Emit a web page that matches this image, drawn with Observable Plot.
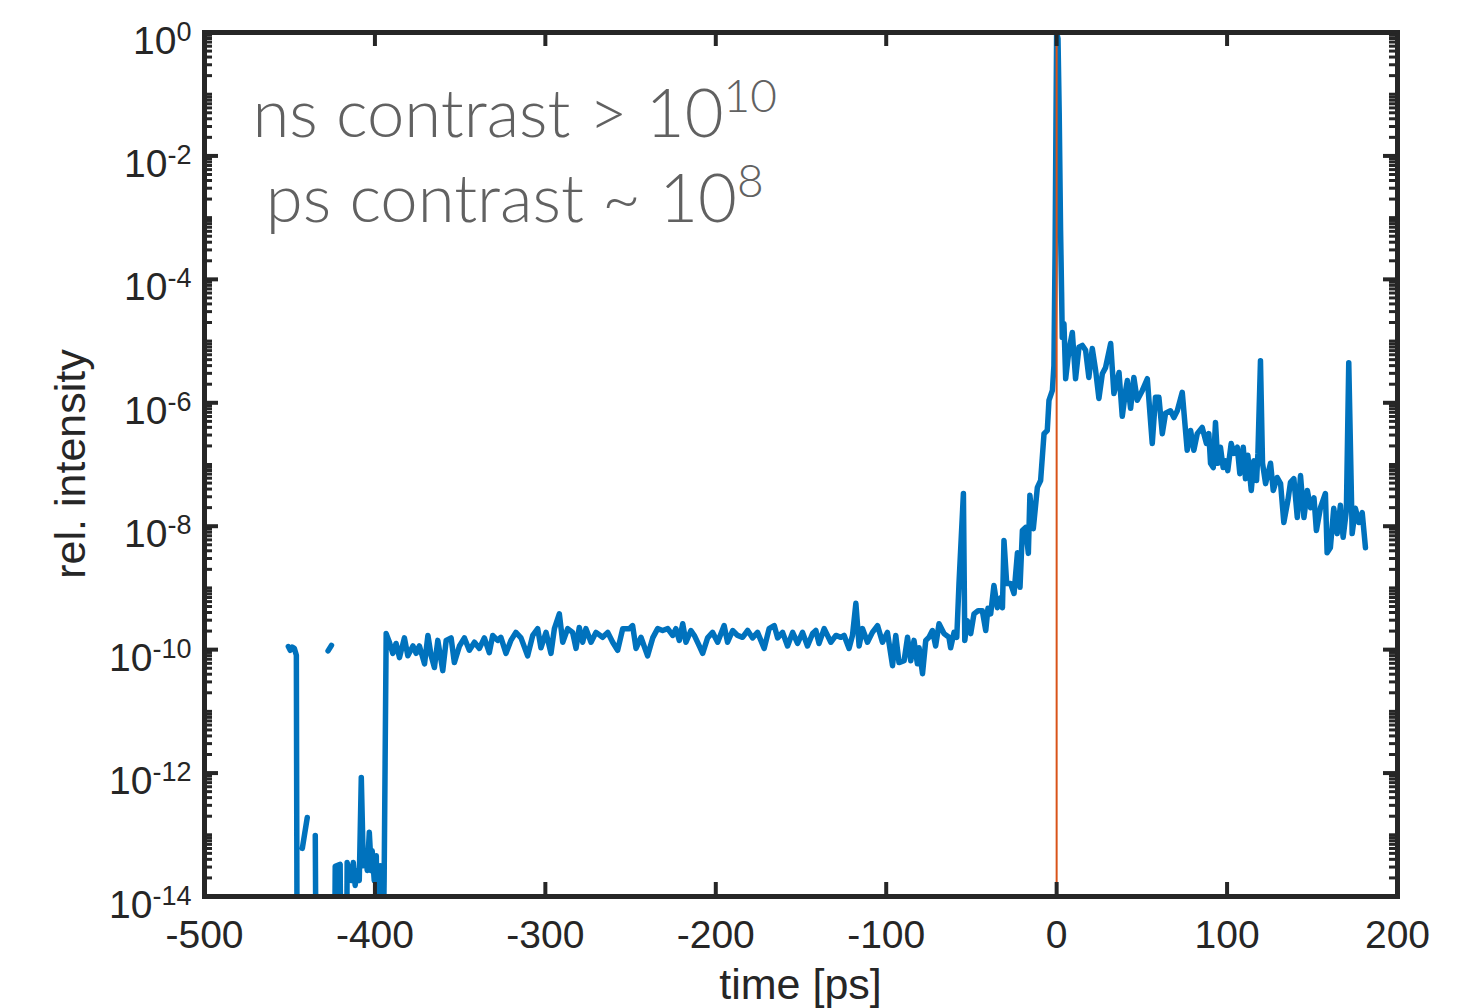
<!DOCTYPE html>
<html>
<head>
<meta charset="utf-8">
<script src="https://cdn.jsdelivr.net/npm/d3@7"></script>
<script src="https://cdn.jsdelivr.net/npm/@observablehq/plot@0.6"></script>
<style>
  html, body { margin: 0; padding: 0; background: #fff; }
  svg { display: block; }
</style>
</head>
<body>
<div id="chart"></div>
<script>
// ---------- data (time in ps, log10 of relative intensity; null = gap) ----------
const timeEarly = [
  -450.8, -449.7, -448.5, -447.3, -446.1, -445.6, -444.0,
  -442.6, -439.7, -437.0,
  -435.0, -434.4, -431.0,
  -427.5, -425.5, -424.6,
  -423.9, -423.3, -420.4, -419.8, -418.0,
  -416.8, -416.3, -413.9, -412.7, -411.6, -410.4, -409.2, -408.0, -406.8, -405.7,
  -404.5, -403.3, -402.1, -401.6, -400.4, -399.2, -398.1, -396.9, -395.7, -394.6
];
const logEarly = [
  -9.95, -10.01, -9.96, -9.98, -10.09, -16, null,
  -13.22, -12.72, null,
  -13.01, -16, null,
  -10.02, -9.93, null,
  -16, -13.51, -13.48, -16, null,
  -16, -13.45, -13.74, -13.45, -13.82, -13.58, -13.74, -12.07, -13.50, -13.26,
  -13.58, -12.96, -13.58, -13.26, -13.74, -13.34, -16, -13.50, -16, -13.74
];

const timeFloor = [
  -393.4, -391.5, -389.5, -387.6, -385.6, -382.7, -380.7, -377.7, -375.8, -373.9,
  -370.9, -368.9, -367.0, -365.1, -363.1, -360.2, -358.2, -355.3, -353.4, -350.4,
  -347.5, -344.6, -341.6, -338.7, -335.8, -332.9, -330.9, -328.0, -326.1, -323.1,
  -320.2, -317.3, -314.3, -310.4, -307.4, -304.5, -302.6, -299.6, -296.7, -294.7,
  -291.8, -289.8, -286.9, -284.0, -282.0, -280.1, -278.1, -276.2, -273.2, -270.3,
  -266.4, -263.4, -260.5, -257.6, -254.6, -250.7, -248.8, -246.8, -243.9, -240.0,
  -237.0, -234.1, -231.2, -228.2, -225.3, -223.4, -221.4, -219.4, -217.5, -214.6,
  -212.6, -209.7, -207.7, -204.8, -201.9, -198.9, -195.1, -193.1, -190.1, -187.2,
  -184.3, -181.3, -178.4, -175.5, -171.6, -168.7, -165.7, -163.7, -160.8, -157.9,
  -154.9, -152.0, -149.1, -146.2, -143.2, -141.3, -139.4, -136.4, -132.5, -129.5,
  -126.6, -124.7, -121.8, -119.8, -117.8, -115.9, -113.9, -111.0, -108.1, -105.1,
  -102.2, -99.3, -96.3, -94.4, -92.5
];
const logFloor = [
  -9.74, -9.88, -10.06, -9.90, -10.13, -9.81, -10.10, -9.94, -10.06, -9.94,
  -10.23, -9.77, -10.10, -10.29, -9.85, -10.34, -9.85, -9.81, -10.21, -9.94,
  -9.81, -10.01, -9.88, -9.98, -9.81, -10.05, -9.77, -9.85, -9.80, -10.06,
  -9.85, -9.72, -9.81, -10.10, -9.77, -9.66, -9.97, -9.72, -10.06, -9.66,
  -9.42, -9.88, -9.66, -9.72, -9.98, -9.64, -9.88, -9.66, -9.88, -9.72,
  -9.80, -9.72, -9.88, -10.01, -9.66, -9.66, -9.61, -9.98, -9.80, -10.10,
  -9.81, -9.66, -9.69, -9.66, -9.77, -9.66, -9.85, -9.58, -9.88, -9.69,
  -9.77, -9.94, -10.06, -9.81, -9.72, -9.88, -9.61, -9.88, -9.69, -9.77,
  -9.80, -9.69, -9.81, -9.72, -9.98, -9.66, -9.61, -9.81, -9.72, -9.94,
  -9.72, -9.90, -9.72, -9.94, -9.74, -9.69, -9.90, -9.66, -9.88, -9.77,
  -9.80, -9.77, -9.98, -9.77, -9.25, -9.94, -9.66, -9.88, -9.72, -9.61,
  -9.88, -9.72, -10.26, -9.77, -10.21
];

const timeRise = [
  -89.5, -87.5, -85.6, -83.7, -81.7, -80.7, -78.7, -76.8, -74.9, -72.9,
  -71.0, -69.0, -66.1, -63.2, -62.2, -60.2, -58.6, -57.3, -54.7, -53.9,
  -52.4, -50.4, -48.5, -46.1, -43.6, -41.6, -40.3, -38.7, -36.8, -34.8,
  -32.8, -31.8, -30.9, -29.3, -27.0, -25.0, -23.0, -21.5, -20.1, -18.2,
  -16.6, -15.7, -13.7, -11.3, -9.4, -7.4, -5.5, -4.5, -2.5, -1.6,
  -0.9, -0.4, 0, 0.8, 1.5, 2.3, 2.9
];
const logRise = [
  -10.18, -9.80, -10.18, -9.85, -10.23, -9.97, -10.39, -9.85, -9.80, -9.69,
  -9.94, -9.58, -9.74, -9.80, -9.97, -9.72, -9.80, -8.93, -7.47, -9.85,
  -9.53, -9.74, -9.42, -9.37, -9.37, -9.69, -9.33, -9.42, -8.96, -9.32,
  -9.16, -9.32, -8.23, -8.93, -8.93, -9.09, -8.43, -8.99, -8.07, -8.02,
  -8.44, -7.50, -8.04, -7.37, -7.26, -6.50, -6.45, -5.96, -5.80, -5.40,
  -3.5, -1.5, 0, -0.1, -1.3, -3.2, -4.2
];

const timeDecay = [
  3.3, 4.3, 5.3, 7.2, 9.2, 11.1, 13.1, 15.1, 17.0, 18.9,
  20.9, 22.9, 24.8, 26.8, 28.7, 31.7, 33.6, 36.6, 38.5, 40.5,
  41.5, 43.4, 45.3, 47.3, 50.3, 53.2, 56.1, 58.0, 60.0, 62.0,
  63.9, 66.8, 68.8, 70.8, 73.7, 76.6, 78.6, 80.5, 82.5, 85.4,
  87.9, 89.3, 90.3, 91.9, 93.2, 94.6, 96.1, 97.7, 99.1, 100.4,
  102.4, 104.0, 106.0, 107.5, 109.5, 110.8, 112.2, 114.2, 115.7, 117.3,
  118.1, 119.6, 120.8, 122.6, 125.5, 127.1, 129.4, 131.4, 133.3, 135.7,
  137.2, 139.2, 141.2, 143.1, 145.1, 147.1, 149.0, 151.0, 152.4, 154.8,
  157.7, 158.7, 160.6, 162.6, 164.6, 166.5, 168.1, 170.0, 171.4, 173.4,
  175.3, 177.3, 179.3, 181.2
];
const logDecay = [
  -4.94, -4.72, -5.61, -5.15, -4.86, -5.61, -5.10, -5.07, -5.15, -5.59,
  -5.12, -5.48, -5.93, -5.53, -5.43, -5.04, -5.85, -5.51, -6.22, -5.80,
  -5.64, -6.09, -5.59, -5.96, -5.80, -5.61, -6.66, -5.91, -5.91, -6.50,
  -6.17, -6.13, -6.24, -6.13, -5.83, -6.77, -6.45, -6.77, -6.50, -6.40,
  -6.66, -6.50, -6.98, -7.05, -6.32, -6.98, -6.72, -7.05, -6.94, -7.10,
  -6.66, -6.82, -6.72, -7.15, -6.72, -7.23, -6.85, -7.42, -6.94, -7.26,
  -6.82, -5.32, -6.98, -7.31, -6.98, -7.42, -7.21, -7.31, -7.94, -7.58,
  -7.29, -7.23, -7.86, -7.18, -7.86, -7.42, -7.70, -7.54, -8.07, -7.70,
  -7.47, -8.43, -8.35, -7.71, -8.12, -7.66, -8.18, -7.75, -5.35, -8.12,
  -7.71, -7.94, -7.78, -8.35
];

// ticks and labels
const xTicks = [-500, -400, -300, -200, -100, 0, 100, 200];
const yTickExponents = [0, -2, -4, -6, -8, -10, -12, -14];
const markerTime = [0];
const xLabel = "time [ps]";
const yLabel = "rel. intensity";
const annotationText = ["ns contrast > 10", "ps contrast ~ 10"];
const annotationExponent = ["10", "8"];
const annotationTime = [-317.7, -317.7];
const annotationLog = [-1.70, -3.08];

// ---------- build ----------
const W = 1465, H = 1008, mL = 204, mR = 68, mT = 32, mB = 112;
const plotW = W - mL - mR, plotH = H - mT - mB;
const axisColor = "#262626";

function toRows(times, logs) {
  return times.map((t, i) => ({ time: t, intensity: logs[i] == null ? NaN : Math.pow(10, logs[i]) }));
}
const data = [
  ...toRows(timeEarly, logEarly),
  ...toRows(timeFloor, logFloor),
  ...toRows(timeRise, logRise),
  ...toRows(timeDecay, logDecay)
];

const majorY = yTickExponents.map(e => Math.pow(10, e));
const minorY = [];
for (let k = -14; k < 0; k++) {
  for (let m = 1; m < 10; m++) {
    if (m === 1 && k % 2 === 0) continue;
    minorY.push(m * Math.pow(10, k));
  }
}

const chart = Plot.plot({
  width: W, height: H,
  marginLeft: mL, marginRight: mR, marginTop: mT, marginBottom: mB,
  style: { fontFamily: "'Liberation Sans', Arial, Helvetica, sans-serif", fontSize: "39px", color: axisColor, background: "#fff" },
  x: { domain: [-500, 200] },
  y: { type: "log", domain: [1e-14, 1] },
  marks: [
    Plot.line(data, { x: "time", y: "intensity", stroke: "#0072BD", strokeWidth: 5.5, strokeLinejoin: "round", strokeLinecap: "round", clip: true }),
    Plot.ruleX(markerTime, { x: d => d, stroke: "#D95319", strokeWidth: 2 }),
    Plot.frame({ stroke: axisColor, strokeWidth: 5 }),
    Plot.tickX(xTicks, { x: d => d, stroke: axisColor, strokeWidth: 4, insetTop: plotH - 14 }),
    Plot.tickX(xTicks, { x: d => d, stroke: axisColor, strokeWidth: 4, insetBottom: plotH - 14 }),
    Plot.tickY(majorY, { y: d => d, stroke: axisColor, strokeWidth: 4, insetRight: plotW - 14 }),
    Plot.tickY(majorY, { y: d => d, stroke: axisColor, strokeWidth: 4, insetLeft: plotW - 14 }),
    Plot.tickY(minorY, { y: d => d, stroke: axisColor, strokeWidth: 3, insetRight: plotW - 8 }),
    Plot.tickY(minorY, { y: d => d, stroke: axisColor, strokeWidth: 3, insetLeft: plotW - 8 }),
    Plot.axisX({ ticks: xTicks, tickSize: 0, tickPadding: 24, tickFormat: d => String(d), label: null }),
    Plot.axisY({ ticks: majorY, tickSize: 0, tickPadding: 13, tickFormat: d => "10^" + Math.round(Math.log10(d)), label: null })
  ]
});

document.getElementById("chart").appendChild(chart);

const svg = d3.select(chart);

// superscript y tick labels
svg.selectAll('g[aria-label="y-axis tick label"] text').each(function () {
  const parts = this.textContent.split("^");
  const t = d3.select(this);
  t.text(parts[0]).attr("y", 21);
  t.append("tspan").attr("dy", -13).attr("font-size", 27).text(parts[1]);
});

// axis titles
svg.append("text")
  .attr("x", mL + plotW / 2).attr("y", H - 9)
  .attr("text-anchor", "middle").attr("font-size", 43).attr("fill", axisColor)
  .text(xLabel);
svg.append("text")
  .attr("transform", `translate(85,${mT + plotH / 2}) rotate(-90)`)
  .attr("text-anchor", "middle").attr("font-size", 43).attr("fill", axisColor)
  .text(yLabel);

// annotation
const sx = chart.scale("x"), sy = chart.scale("y");
annotationText.forEach((s, i) => {
  const t = svg.append("text")
    .attr("x", sx.apply(annotationTime[i]))
    .attr("y", sy.apply(Math.pow(10, annotationLog[i])))
    .attr("text-anchor", "middle")
    .attr("font-family", "Lato, 'Open Sans', sans-serif")
    .attr("font-weight", 300)
    .attr("font-size", 67)
    .attr("fill", "#616161")
    .text(s);
  t.append("tspan").attr("dy", -25).attr("font-size", 46).text(annotationExponent[i]);
});
</script>
</body>
</html>
